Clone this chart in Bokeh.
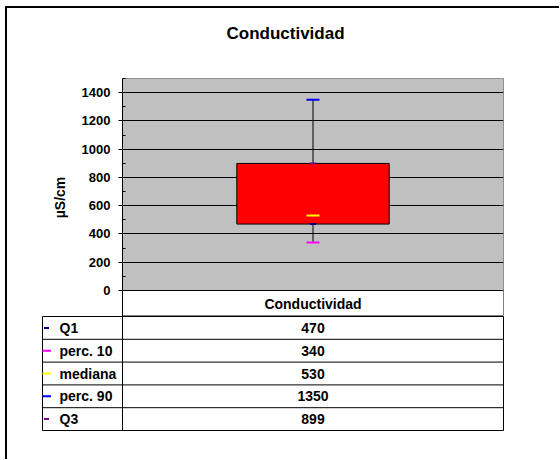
from bokeh.plotting import figure
from bokeh.models import Range1d, FactorRange, FixedTicker, BoxAnnotation, Title
from bokeh.layouts import column
from bokeh.core.properties import value
from bokeh.embed import file_html
from bokeh.resources import INLINE

# ---- data ----
title_text = "Conductividad"
category = ["Conductividad"]
y_label = "µS/cm"
y_ticks = [0, 200, 400, 600, 800, 1000, 1200, 1400]
y_minor_ticks = [100, 300, 500, 700, 900, 1100, 1300, 1500]
y_max = 1500
stat_names = ["Q1", "perc. 10", "mediana", "perc. 90", "Q3"]
stat_values = [470, 340, 530, 1350, 899]

# ---- styles ----
stat_colors = ["#000080", "#FF00FF", "#FFFF00", "#0000FF", "#800080"]
stat_lengths = [6, 13, 13, 13, 6]
legend_dash_len = [5, 9, 9, 9, 5]
FONT = "Liberation Sans"
TABLE_FS = "14px"

# ---- geometry (page px) ----
OX, OY = 7, 8          # content origin (margin 5/6 + 2px border)
W = 552
HTOT = 451
FL, FR, FT, F0 = 122, 503, 78, 290   # plot frame left/right/top and y=0 line
HB = 316               # header bottom
TL, TB = 42, 430       # table left / bottom
H1 = HB - OY
H2 = HTOT - H1

px_per_unit = (F0 - FT) / y_max
y_low = -(HB - F0) / px_per_unit

p = figure(width=W, height=H1,
           x_range=FactorRange(*category), y_range=Range1d(y_low, y_max),
           output_backend="svg", toolbar_location=None, frame_align=False,
           min_border_left=FL - OX, min_border_right=W - (FR - OX),
           min_border_top=FT - OY, min_border_bottom=0,
           background_fill_color="white", border_fill_color="white",
           outline_line_color="#808080", outline_line_width=1)

p.title = Title(text=title_text, align="left", offset=104, standoff=10,
                text_font=FONT, text_font_style="bold", text_font_size="17px",
                text_color="black")
# empty spacer between title and plot area
p.add_layout(Title(text=" ", text_font_size="10px", standoff=18), "above")

# grey plot area (0 .. top of range)
p.add_layout(BoxAnnotation(bottom=0, fill_color="#C0C0C0", fill_alpha=1,
                           line_color=None, level="image"))

ticker = FixedTicker(ticks=y_ticks, minor_ticks=y_minor_ticks)
yax = p.yaxis[0]
yax.ticker = ticker
yax.axis_label = y_label
yax.axis_label_text_font = FONT
yax.axis_label_text_font_style = "bold"
yax.axis_label_text_font_size = "14px"
yax.axis_label_text_color = "black"
yax.axis_label_standoff = 11
yax.major_label_text_font = FONT
yax.major_label_text_font_style = "bold"
yax.major_label_text_font_size = "13px"
yax.major_label_text_color = "black"
yax.major_label_standoff = 8
yax.major_tick_out = 4
yax.major_tick_in = 0
yax.minor_tick_in = 3
yax.minor_tick_out = 0
yax.axis_line_color = "black"
yax.major_tick_line_color = "black"
yax.minor_tick_line_color = "black"

p.ygrid.ticker = ticker
p.ygrid.grid_line_color = "black"
p.ygrid.grid_line_width = 1
p.ygrid.level = "underlay"
p.xgrid.visible = False
p.xaxis.visible = False

cat = category[0]
# whisker (perc. 10 -> perc. 90)
p.segment(x0=[cat], y0=[stat_values[1]], x1=[cat], y1=[stat_values[3]],
          line_color="black", line_width=1)
# box (Q1 -> Q3)
p.vbar(x=[cat], bottom=[stat_values[0]], top=[stat_values[4]], width=0.4,
       fill_color="#FF0000", line_color="black", line_width=1)
# statistic markers
p.scatter(x=[cat] * len(stat_values), y=stat_values, marker="dash",
          size=stat_lengths, line_color=stat_colors, line_width=2)
# table header: category name under the y=0 line
p.text(x=[cat], y=[y_low / 2], text=category, text_align="center",
       text_baseline="middle", text_font=value(FONT), text_font_style="bold",
       text_font_size=TABLE_FS, text_color="black")

# ---- data table figure ----
n = len(stat_names)
legend_frac = (FL - TL) / (FR - FL)
p2 = figure(width=W, height=H2,
            x_range=Range1d(-legend_frac, 1), y_range=Range1d(n, 0),
            output_backend="svg", toolbar_location=None, frame_align=False,
            min_border_left=TL - OX, min_border_right=W - (FR - OX),
            min_border_top=0, min_border_bottom=H2 - (TB - HB),
            background_fill_color="white", border_fill_color="white",
            outline_line_color="black", outline_line_width=1)
p2.xaxis.visible = False
p2.yaxis.visible = False
p2.grid.visible = False

rows = list(range(n))
p2.segment(x0=[-legend_frac] * (n - 1), y0=rows[1:], x1=[1] * (n - 1), y1=rows[1:],
           line_color="black", line_width=1)
p2.segment(x0=[0], y0=[0], x1=[0], y1=[n], line_color="black", line_width=1)

mids = [r + 0.5 for r in rows]
dash_x = (46 - FL) / (FR - FL)
label_x = (59 - FL) / (FR - FL)
p2.scatter(x=[dash_x] * n, y=mids, marker="dash", size=legend_dash_len,
           line_color=stat_colors, line_width=2)
p2.text(x=[label_x] * n, y=mids, text=stat_names, text_align="left",
        text_baseline="middle", text_font=value(FONT), text_font_style="bold",
        text_font_size=TABLE_FS, text_color="black")
p2.text(x=[0.5] * n, y=mids, text=[str(v) for v in stat_values], text_align="center",
        text_baseline="middle", text_font=value(FONT), text_font_style="bold",
        text_font_size=TABLE_FS, text_color="black")

layout = column(p, p2, spacing=0,
                styles={"margin-left": "5px", "margin-top": "6px",
                        "border-left": "2px solid black",
                        "border-top": "2px solid black"})

open("out.html", "w").write(file_html(layout, INLINE))
